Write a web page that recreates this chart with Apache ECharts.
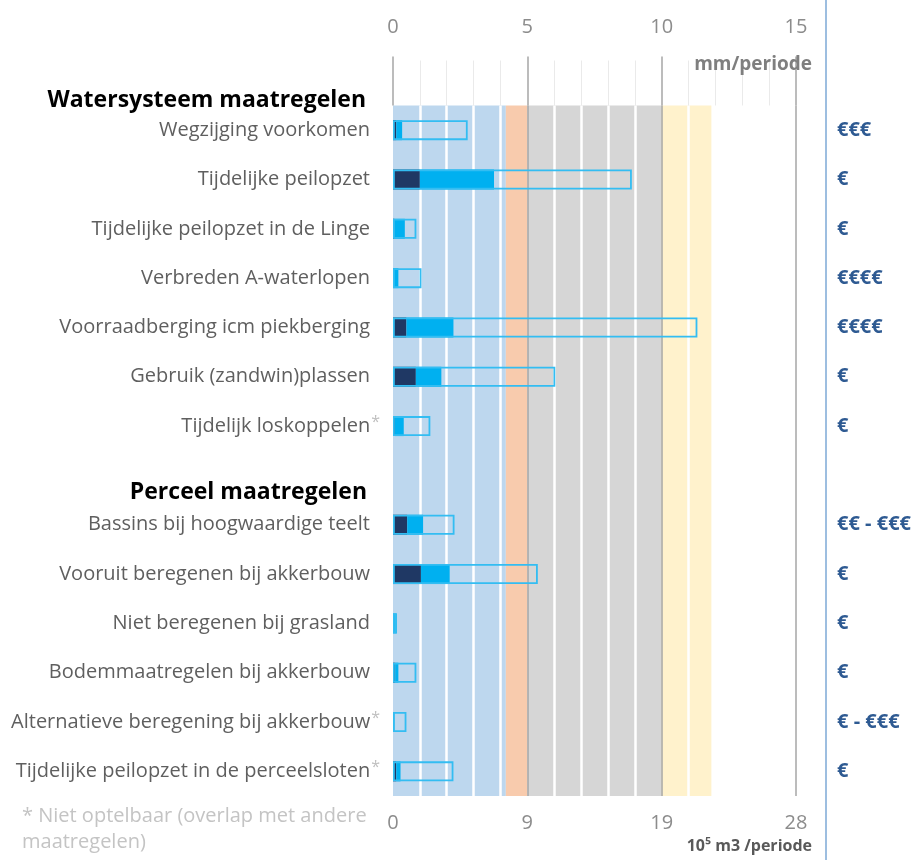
<!DOCTYPE html>
<html>
<head>
<meta charset="utf-8">
<script src="https://cdn.jsdelivr.net/npm/echarts@6/dist/echarts.min.js"></script>
<style>html,body{margin:0;padding:0;background:#fff}#c{width:914px;height:860px}</style>
</head>
<body>
<div id="c"></div>
<script>
// ---- data ----
var categories = [
  'Wegzijging voorkomen',
  'Tijdelijke peilopzet',
  'Tijdelijke peilopzet in de Linge',
  'Verbreden A-waterlopen',
  'Voorraadberging icm piekberging',
  'Gebruik (zandwin)plassen',
  'Tijdelijk loskoppelen*',
  '',
  'Bassins bij hoogwaardige teelt',
  'Vooruit beregenen bij akkerbouw',
  'Niet beregenen bij grasland',
  'Bodemmaatregelen bij akkerbouw',
  'Alternatieve beregening bij akkerbouw*',
  'Tijdelijke peilopzet in de perceelsloten*'
];
var costs = ['€€€', '€', '€', '€€€€', '€€€€', '€', '€', '', '€€ - €€€', '€', '€', '€', '€ - €€€', '€'];
// mm/periode
var darkPart  = [0.12, 1.0, 0.05, 0.0, 0.5, 0.85, 0.07, null, 0.53, 1.04, 0.0, 0.08, 0.0, 0.12];
var bluePart  = [0.22, 2.76, 0.39, 0.2, 1.75, 0.95, 0.33, null, 0.59, 1.07, 0.14, 0.12, 0.05, 0.16];
var totalRange = [2.78, 8.89, 0.87, 1.06, 11.33, 6.04, 1.39, null, 2.29, 5.39, 0.14, 0.87, 0.5, 2.25];
// background bands (mm/periode)
var bands = [[0, 4.2, '#BDD7EE'], [4.2, 5, '#F8CBAD'], [5, 10, '#D6D6D6'], [10, 11.85, '#FFF2CC']];
var topTicks = ['0', '5', '10', '15'];
var bottomTicks = ['0', '9', '19', '28'];

var FONT = '"Open Sans", sans-serif';
var chart = echarts.init(document.getElementById('c'), null, {renderer: 'canvas'});

var GRID = {left: 393, right: 114, top: 105.5, bottom: 64};
var LABEL = {fontSize: 20, color: '#5F5F5F', fontFamily: FONT};

var option = {
  animation: false,
  backgroundColor: '#ffffff',
  textStyle: {fontFamily: FONT},
  grid: {left: GRID.left, right: GRID.right, top: GRID.top, bottom: GRID.bottom, containLabel: false},
  xAxis: [
    {
      type: 'value', position: 'top', min: 0, max: 15, interval: 5,
      axisLine: {show: false},
      axisTick: {show: true, length: 49, lineStyle: {color: '#A6A6A6', width: 1.5}},
      minorTick: {show: true, splitNumber: 5, length: 45, lineStyle: {color: '#EAEAEA', width: 1}},
      axisLabel: {
        margin: 68, color: '#8C8C8C', fontSize: 20, fontFamily: FONT,
        formatter: function (v) { return topTicks[Math.round(v / 5)]; }
      },
      splitLine: {show: true, lineStyle: {color: ['rgba(0,0,0,0)', '#A6A6A6', '#A6A6A6', '#A6A6A6'], width: 1.5}},
      minorSplitLine: {show: true, lineStyle: {color: '#FFFFFF', width: 2.5}},
      z: 1
    },
    {
      type: 'value', position: 'bottom', min: 0, max: 15, interval: 5,
      axisLine: {show: false}, axisTick: {show: false}, splitLine: {show: false},
      axisLabel: {
        margin: 17, color: '#8C8C8C', fontSize: 20, fontFamily: FONT,
        formatter: function (v) { return bottomTicks[Math.round(v / 5)]; }
      }
    }
  ],
  yAxis: [
    {
      type: 'category', inverse: true, data: categories,
      axisLine: {show: false}, axisTick: {show: false}, splitLine: {show: false},
      axisLabel: {
        margin: 13, fontSize: 20, color: '#5F5F5F', fontFamily: FONT,
        formatter: function (v) {
          if (!v) return '';
          if (v.charAt(v.length - 1) === '*') return '{a|' + v.slice(0, -1) + '}{s|*}';
          return '{n|' + v + '}';
        },
        rich: {
          n: Object.assign({padding: [0, 10, 0, 0]}, LABEL),
          a: Object.assign({padding: [0, 1, 0, 0]}, LABEL),
          s: {color: '#BFBFBF', fontSize: 16, fontFamily: FONT, verticalAlign: 'top', padding: [0, 0, 8, 0]}
        }
      }
    },
    {
      type: 'category', inverse: true, data: costs, position: 'right', offset: 26,
      axisLine: {show: false}, axisTick: {show: false}, splitLine: {show: false},
      axisLabel: {margin: 15, fontSize: 20, fontWeight: 'bold', color: '#2E5A92', fontFamily: FONT}
    }
  ],
  series: [
    {
      name: 'bands', type: 'bar', xAxisIndex: 0, yAxisIndex: 0, data: [], z: -5,
      silent: true,
      markArea: {
        silent: true, z: -5,
        data: bands.map(function (b) {
          return [{xAxis: b[0], itemStyle: {color: b[2]}}, {xAxis: b[1]}];
        })
      }
    },
    {
      name: 'dark', type: 'bar', stack: 'a', xAxisIndex: 0, yAxisIndex: 0,
      data: darkPart, barWidth: 20, itemStyle: {color: '#1F3864'}, z: 3
    },
    {
      name: 'blue', type: 'bar', stack: 'a', xAxisIndex: 0, yAxisIndex: 0,
      data: bluePart, barWidth: 20, itemStyle: {color: '#00B0F0'}, z: 3
    },
    {
      name: 'range', type: 'bar', xAxisIndex: 0, yAxisIndex: 0,
      data: totalRange, barWidth: 20, barGap: '-100%',
      itemStyle: {color: 'rgba(0,0,0,0)', borderColor: '#33BDF2', borderWidth: 1.8}, z: 4
    }
  ],
  graphic: [
    {type: 'line', z: 50, shape: {x1: 826, y1: 0, x2: 826, y2: 860}, style: {stroke: '#9DBEE0', lineWidth: 2}, silent: true},
    {type: 'text', z: 50, x: 366, y: 100, style: {text: 'Watersysteem maatregelen', font: 'bold 23px ' + FONT, fill: '#000000', align: 'right', verticalAlign: 'middle'}},
    {type: 'text', z: 50, x: 367, y: 492, style: {text: 'Perceel maatregelen', font: 'bold 23px ' + FONT, fill: '#000000', align: 'right', verticalAlign: 'middle'}},
    {type: 'text', z: 50, x: 812, y: 65, style: {text: 'mm/periode', font: 'bold 19px ' + FONT, fill: '#7F7F7F', align: 'right', verticalAlign: 'middle'}},
    {type: 'text', z: 50, x: 812, y: 846, style: {text: '10⁵ m3 /periode', font: 'bold 16px ' + FONT, fill: '#595959', align: 'right', verticalAlign: 'middle'}},
    {type: 'text', z: 50, x: 22, y: 803, style: {text: '* Niet optelbaar (overlap met andere\nmaatregelen)', font: '20px ' + FONT, fill: '#C4C4C4', lineHeight: 26, align: 'left', verticalAlign: 'top'}}
  ]
};
chart.setOption(option);
</script>
</body>
</html>
